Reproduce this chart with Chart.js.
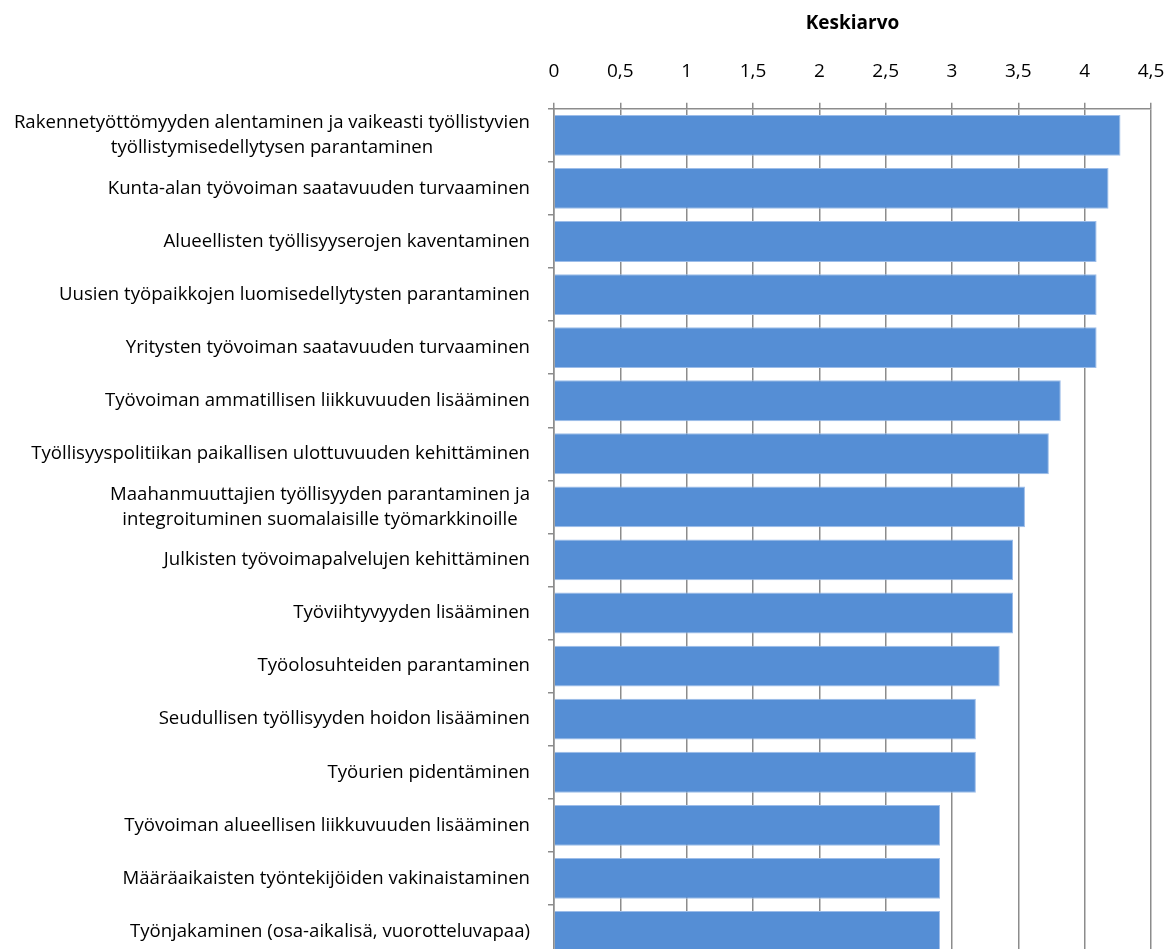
<!DOCTYPE html>
<html>
<head>
<meta charset="utf-8">
<script src="https://cdn.jsdelivr.net/npm/chart.js@4/dist/chart.umd.min.js"></script>
<style>
  html, body { margin: 0; padding: 0; background: #fff; overflow: hidden; }
  #wrap { position: relative; width: 1173px; height: 958px; }
</style>
</head>
<body>
<div id="wrap"><canvas id="myChart"></canvas></div>
<script>
// Categories, top to bottom
const categories = [
  ['Rakennetyöttömyyden alentaminen ja vaikeasti työllistyvien', 'työllistymisedellytysen parantaminen'],
  'Kunta-alan työvoiman saatavuuden turvaaminen',
  'Alueellisten työllisyyserojen kaventaminen',
  'Uusien työpaikkojen luomisedellytysten parantaminen',
  'Yritysten työvoiman saatavuuden turvaaminen',
  'Työvoiman ammatillisen liikkuvuuden lisääminen',
  'Työllisyyspolitiikan paikallisen ulottuvuuden kehittäminen',
  ['Maahanmuuttajien työllisyyden parantaminen ja', 'integroituminen suomalaisille työmarkkinoille'],
  'Julkisten työvoimapalvelujen kehittäminen',
  'Työviihtyvyyden lisääminen',
  'Työolosuhteiden parantaminen',
  'Seudullisen työllisyyden hoidon lisääminen',
  'Työurien pidentäminen',
  'Työvoiman alueellisen liikkuvuuden lisääminen',
  'Määräaikaisten työntekijöiden vakinaistaminen',
  'Työnjakaminen (osa-aikalisä, vuorotteluvapaa)'
];

// Mean values (Keskiarvo)
const means = [4.27, 4.18, 4.09, 4.09, 4.09, 3.82, 3.73, 3.55, 3.46, 3.46, 3.36, 3.18, 3.18, 2.91, 2.91, 2.91];

const axisTitle = 'Keskiarvo';
const xMax = 4.5;
const xStep = 0.5;

const labelFont = '18.6px "Open Sans"';

// draws the category labels, each block centred on its widest line
const centeredLabels = {
  id: 'centeredLabels',
  afterDraw(chart) {
    const yScale = chart.scales.y;
    const ctx = chart.ctx;
    ctx.save();
    ctx.font = labelFont;
    ctx.fillStyle = '#000';
    ctx.textAlign = 'center';
    ctx.textBaseline = 'middle';
    const right = yScale.right - 24;
    const lineH = 25;
    categories.forEach((lab, i) => {
      const lines = Array.isArray(lab) ? lab : [lab];
      const w = Math.max(...lines.map(l => ctx.measureText(l).width));
      const cx = right - w / 2;
      const cy = yScale.getPixelForTick(i);
      lines.forEach((l, j) => {
        ctx.fillText(l, cx, cy + (j - (lines.length - 1) / 2) * lineH);
      });
    });
    ctx.restore();
  }
};

window.onload = function () {
  const ctx = document.getElementById('myChart').getContext('2d');
  new Chart(ctx, {
    type: 'bar',
    data: {
      labels: categories,
      datasets: [{
        label: axisTitle,
        data: means,
        backgroundColor: '#558ed5',
        borderColor: '#9dbde9',
        borderWidth: 1,
        barPercentage: 0.77,
        categoryPercentage: 1.0
      }]
    },
    plugins: [centeredLabels],
    options: {
      indexAxis: 'y',
      responsive: true,
      maintainAspectRatio: false,
      animation: false,
      layout: { autoPadding: false, padding: { top: 12, right: 22, bottom: 0, left: 0 } },
      plugins: {
        legend: { display: false },
        tooltip: { enabled: false }
      },
      scales: {
        x: {
          position: 'top',
          min: 0,
          max: xMax,
          ticks: {
            stepSize: xStep,
            color: '#000',
            padding: 2,
            // tall line box keeps the labels well above the axis line
            font: { family: '"Open Sans"', size: 19, lineHeight: '59px' },
            callback: v => String(v).replace('.', ',')
          },
          grid: {
            color: '#8c8c8c',
            lineWidth: 1.5,
            tickLength: 6
          },
          border: { color: '#8c8c8c', width: 1.5 },
          title: {
            display: true,
            text: axisTitle,
            color: '#000',
            font: { family: '"Open Sans"', size: 19, weight: 'bold' },
            padding: { top: 0, bottom: 5 }
          }
        },
        y: {
          afterFit(scale) { scale.width = 554; },
          ticks: { display: false },
          grid: {
            offset: true,
            drawOnChartArea: false,
            color: '#8c8c8c',
            lineWidth: 1.5,
            tickLength: 6
          },
          border: { color: '#8c8c8c', width: 1.5 }
        }
      }
    }
  });
};
</script>
</body>
</html>
